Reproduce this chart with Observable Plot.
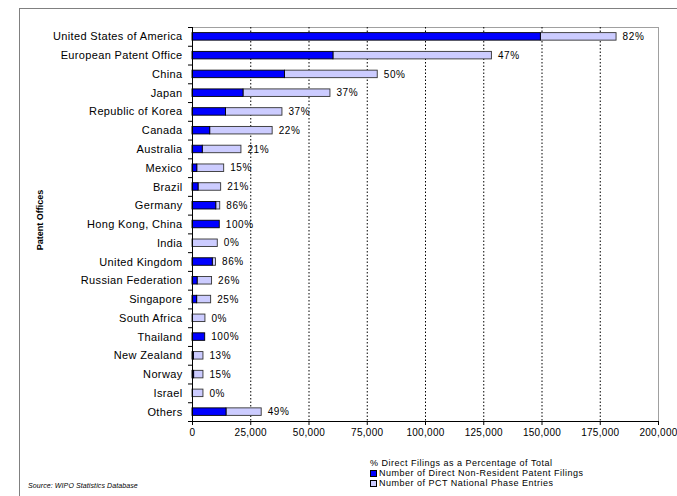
<!DOCTYPE html>
<html>
<head>
<meta charset="utf-8">
<script src="https://cdn.jsdelivr.net/npm/d3@7"></script>
<script src="https://cdn.jsdelivr.net/npm/@observablehq/plot@0.6"></script>
<style>
  html, body { margin: 0; padding: 0; background: #fff; }
  #wrap { position: relative; width: 677px; height: 496px; overflow: hidden; font-family: "Liberation Sans", Arial, sans-serif; }
  #frameTop { position: absolute; left: 19px; top: 8px; width: 660px; height: 0; border-top: 1px solid #808080; }
  #frameLeft { position: absolute; left: 19px; top: 8px; width: 0; height: 490px; border-left: 1px solid #808080; }
  #chart { position: absolute; left: 0; top: 0; }
  #chart svg g[aria-label="y-axis tick label"] text { letter-spacing: 0.35px; }
  #chart svg g[aria-label="x-axis tick label"] text { letter-spacing: 0.3px; }
  #chart svg g[aria-label="text"] text { letter-spacing: 0.6px; }
  #ytitle { position: absolute; left: 40px; top: 220px; transform: translate(-50%, -50%) rotate(-90deg); font-family: "Liberation Sans Narrow", "Arial Narrow", "Liberation Sans", sans-serif; font-weight: bold; font-size: 9px; white-space: nowrap; color: #000; }
  #legend { position: absolute; left: 370px; top: 458px; font-size: 9px; letter-spacing: 0.5px; line-height: 10px; color: #000; }
  #legend .row { display: flex; align-items: center; height: 10px; }
  #legend .sw { display: inline-block; width: 5px; height: 5px; border: 1px solid #000; margin-right: 2px; }
  #source { position: absolute; left: 28px; top: 482px; font-size: 7px; letter-spacing: 0.1px; font-style: italic; color: #000; white-space: nowrap; }
</style>
</head>
<body>
<div id="wrap">
  <div id="frameTop"></div>
  <div id="frameLeft"></div>
  <div id="chart"></div>
  <div id="ytitle">Patent Offices</div>
  <div id="legend"></div>
  <div id="source">Source: WIPO Statistics Database</div>
</div>
<script>
const offices = ["United States of America", "European Patent Office", "China", "Japan", "Republic of Korea", "Canada", "Australia", "Mexico", "Brazil", "Germany", "Hong Kong, China", "India", "United Kingdom", "Russian Federation", "Singapore", "South Africa", "Thailand", "New Zealand", "Norway", "Israel", "Others"];
const directFilings = [149500, 60500, 39700, 21900, 14400, 7600, 4400, 2050, 2600, 10200, 11700, 0, 8700, 2200, 2000, 0, 5450, 600, 700, 0, 14600];
const pctEntries = [32500, 68000, 39800, 37300, 24200, 26800, 16600, 11550, 9700, 1700, 0, 10850, 1400, 6200, 6000, 5550, 0, 4100, 4000, 4700, 15100];
const directShare = [82, 47, 50, 37, 37, 22, 21, 15, 21, 86, 100, 0, 86, 26, 25, 0, 100, 13, 15, 0, 49];
const xTicks = [0, 25000, 50000, 75000, 100000, 125000, 150000, 175000, 200000];
const seriesNames = ["% Direct Filings as a Percentage of Total", "Number of Direct Non-Resident Patent Filings", "Number of PCT National Phase Entries"];
const seriesColors = [null, "#0000ff", "#ccccff"];

const rows = offices.map((o, i) => ({
  office: o,
  direct: directFilings[i],
  total: directFilings[i] + pctEntries[i],
  share: directShare[i]
}));

const W = 677, H = 445, mT = 27, mB = 24, mL = 192, mR = 19;
const step = (H - mT - mB) / offices.length;

const plot = Plot.plot({
  width: W, height: H,
  marginTop: mT, marginBottom: mB, marginLeft: mL, marginRight: mR,
  style: { fontFamily: "'Liberation Sans', Arial, sans-serif", color: "#000", background: "transparent" },
  x: { domain: [0, 200000], axis: null },
  y: { type: "band", domain: offices, paddingInner: 0.6, paddingOuter: 0.3, round: false, axis: null },
  marks: [
    Plot.frame({ stroke: "#a0a0a0" }),
    Plot.ruleX(xTicks.slice(1, -1), { stroke: "#000", strokeDasharray: "1.5,2", strokeWidth: 1 }),
    Plot.barX(rows, { y: "office", x1: "direct", x2: "total", fill: "#ccccff", stroke: "#333", strokeWidth: 0.9 }),
    Plot.barX(rows.filter(d => d.direct > 0), { y: "office", x1: 0, x2: "direct", fill: "#0000ff", stroke: "#000", strokeWidth: 0.9 }),
    Plot.text(rows, { y: "office", x: "total", text: d => d.share + "%", textAnchor: "start", dx: 6, fontSize: 10, fill: "#000" }),
    Plot.ruleX([0], { stroke: "#000" }),
    Plot.ruleY([offices[offices.length - 1]], { x1: 0, x2: 200000, dy: step / 2, stroke: "#000" }),
    Plot.ruleY(offices, { x1: 0, x2: 0, insetLeft: -4, dy: -step / 2, stroke: "#000" }),
    Plot.ruleY([offices[offices.length - 1]], { x1: 0, x2: 0, insetLeft: -4, dy: step / 2, stroke: "#000" }),
    Plot.axisY({ tickSize: 0, tickPadding: 10, fontSize: 11, label: null }),
    Plot.axisX({ ticks: xTicks, tickFormat: d3.format(","), tickSize: 4, tickPadding: 3, fontSize: 10, label: null })
  ]
});
document.getElementById("chart").appendChild(plot);

const legend = document.getElementById("legend");
seriesNames.forEach((name, i) => {
  const row = document.createElement("div");
  row.className = "row";
  if (seriesColors[i]) {
    const sw = document.createElement("span");
    sw.className = "sw";
    sw.style.background = seriesColors[i];
    row.appendChild(sw);
  }
  row.appendChild(document.createTextNode(name));
  legend.appendChild(row);
});
</script>
</body>
</html>
